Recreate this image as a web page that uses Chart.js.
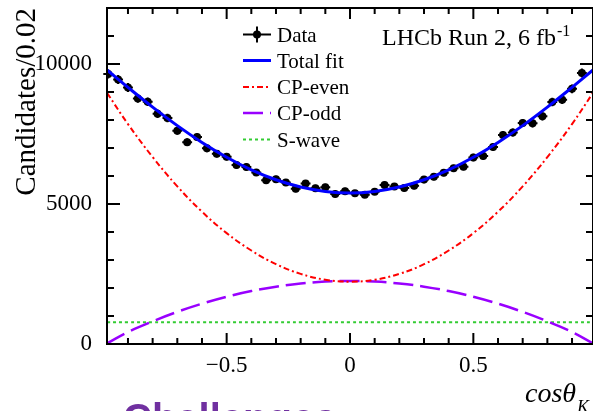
<!DOCTYPE html>
<html>
<head>
<meta charset="utf-8">
<script src="https://cdn.jsdelivr.net/npm/chart.js@4.4.1/dist/chart.umd.min.js"></script>
<style>
  html, body { margin: 0; padding: 0; background: #fff; overflow: hidden; }
  #wrap { position: relative; width: 593px; height: 411px; overflow: hidden; background: #fff; }
  #fitChart { position: absolute; left: 0; top: 0; }
  #challenges {
    position: absolute; left: 123px; top: 398px;
    font: bold 40px "Liberation Sans", Arial, sans-serif; line-height: 40px;
    color: #7030a0; white-space: nowrap;
  }
</style>
</head>
<body>
<div id="wrap">
  <canvas id="fitChart" width="597" height="411" style="width:597px;height:411px"></canvas>
  <div id="challenges">Challenges:</div>
</div>
<script>
// cos(theta_K) bin centres and candidates per bin
const binCentres = [-0.98, -0.94, -0.90, -0.86, -0.82, -0.78, -0.74, -0.70, -0.66, -0.62,
    -0.58, -0.54, -0.50, -0.46, -0.42, -0.38, -0.34, -0.30, -0.26, -0.22,
    -0.18, -0.14, -0.10, -0.06, -0.02, 0.02, 0.06, 0.10, 0.14, 0.18,
    0.22, 0.26, 0.30, 0.34, 0.38, 0.42, 0.46, 0.50, 0.54, 0.58,
    0.62, 0.66, 0.70, 0.74, 0.78, 0.82, 0.86, 0.90, 0.94];
const dataCounts = [9643, 9446, 9161, 8768, 8654, 8225, 8071, 7614, 7207, 7389,
    6989, 6796, 6689, 6393, 6321, 6125, 5846, 5886, 5768, 5546,
    5729, 5561, 5596, 5357, 5454, 5382, 5332, 5439, 5679, 5625,
    5571, 5650, 5871, 5975, 6118, 6275, 6332, 6661, 6714, 7036,
    7464, 7554, 7893, 7882, 8132, 8643, 8725, 9114, 9679];
const dataErrors = [162, 160, 158, 155, 153, 150, 148, 144, 140, 142,
    138, 136, 135, 132, 131, 129, 126, 127, 125, 123,
    125, 123, 123, 121, 122, 121, 120, 122, 124, 124,
    123, 124, 126, 127, 129, 131, 131, 135, 135, 138,
    143, 143, 147, 147, 149, 153, 154, 157, 162];
const binHalfWidth = 0.02;

const fitX = [-0.985, -0.9, -0.8, -0.7, -0.6, -0.5, -0.4, -0.3, -0.2, -0.1, 0,
    0.1, 0.2, 0.3, 0.4, 0.5, 0.6, 0.7, 0.8, 0.9, 0.985];
const totalFit = [9785, 9165, 8460, 7800, 7200, 6670, 6220, 5865, 5605, 5450, 5395,
    5450, 5605, 5865, 6220, 6670, 7200, 7800, 8460, 9165, 9785];
const cpEven = [8970, 7855, 6675, 5630, 4725, 3960, 3340, 2850, 2505, 2295, 2225,
    2295, 2505, 2850, 3340, 3960, 4725, 5630, 6675, 7855, 8970];
const cpOdd = [20, 428, 810, 1148, 1440, 1688, 1890, 2048, 2160, 2228, 2250,
    2228, 2160, 2048, 1890, 1688, 1440, 1148, 810, 428, 20];
const sWave = [780, 780, 780, 780, 780, 780, 780, 780, 780, 780, 780,
    780, 780, 780, 780, 780, 780, 780, 780, 780, 780];

// axis ticks
const xTickValues = [-0.5, 0, 0.5];
const xMinorTicks = [-0.9, -0.8, -0.7, -0.6, -0.4, -0.3, -0.2, -0.1, 0.1, 0.2, 0.3, 0.4, 0.6, 0.7, 0.8, 0.9];
const yTickValues = [0, 5000, 10000];
const yMinorTicks = [1000, 2000, 3000, 4000, 6000, 7000, 8000, 9000, 11000];

const serif = '"Liberation Serif", "Times New Roman", serif';

function points(xs, ys) {
    return xs.map((x, i) => ({ x: x, y: ys[i] }));
}

function curve(label, ys, color, width, dash) {
    return {
        label: label,
        data: points(fitX, ys),
        showLine: true,
        borderColor: color,
        borderWidth: width,
        borderDash: dash,
        pointRadius: 0,
        tension: 0.4,
        fill: false
    };
}

const datasets = [
    curve('Total fit', totalFit, '#0000ff', 3, []),
    {
        label: 'Data',
        data: points(binCentres, dataCounts),
        showLine: false,
        pointRadius: 4,
        pointBackgroundColor: '#000',
        pointBorderColor: '#000',
        pointBorderWidth: 0
    },
    curve('CP-even', cpEven, '#ff0000', 2, [6, 3, 2, 3]),
    curve('CP-odd', cpOdd, '#9900ff', 2.5, [20, 7]),
    curve('S-wave', sWave, '#33cc33', 2, [3, 3])
];

// error bars on the data points
const errorBars = {
    id: 'errorBars',
    afterDatasetDraw(chart, args) {
        if (args.index !== 1) return;
        const xs = chart.scales.x, ys = chart.scales.y, ctx = chart.ctx;
        ctx.save();
        ctx.strokeStyle = '#000';
        ctx.lineWidth = 2;
        binCentres.forEach((x, i) => {
            const px = xs.getPixelForValue(x);
            const py = ys.getPixelForValue(dataCounts[i]);
            ctx.beginPath();
            ctx.moveTo(xs.getPixelForValue(x - binHalfWidth), py);
            ctx.lineTo(xs.getPixelForValue(x + binHalfWidth), py);
            ctx.moveTo(px, ys.getPixelForValue(dataCounts[i] - dataErrors[i]));
            ctx.lineTo(px, ys.getPixelForValue(dataCounts[i] + dataErrors[i]));
            ctx.stroke();
        });
        ctx.restore();
    }
};

// ROOT style frame with inward ticks, legend and labels
const frame = {
    id: 'frame',
    afterDatasetsDraw(chart) {
        const ctx = chart.ctx;
        const { left, right, top, bottom } = chart.chartArea;
        const xs = chart.scales.x, ys = chart.scales.y;
        ctx.save();
        ctx.strokeStyle = '#000';
        ctx.lineWidth = 2;
        ctx.strokeRect(left, top, right - left, bottom - top);

        ctx.beginPath();
        const xTick = (v, len) => {
            const p = xs.getPixelForValue(v);
            ctx.moveTo(p, bottom); ctx.lineTo(p, bottom - len);
            ctx.moveTo(p, top); ctx.lineTo(p, top + len);
        };
        const yTick = (v, len) => {
            const p = ys.getPixelForValue(v);
            ctx.moveTo(left, p); ctx.lineTo(left + len, p);
            ctx.moveTo(right, p); ctx.lineTo(right - len, p);
        };
        xTickValues.forEach(v => xTick(v, 11));
        xMinorTicks.forEach(v => xTick(v, 6));
        yTickValues.forEach(v => yTick(v, 13));
        yMinorTicks.forEach(v => yTick(v, 7));
        ctx.stroke();

        // legend
        const lx0 = 243, lx1 = 271, tx = 277;
        const rows = [41.5, 67.5, 94, 120, 146.5];
        const order = [1, 0, 2, 3, 4];
        ctx.font = '21px ' + serif;
        ctx.fillStyle = '#000';
        ctx.textBaseline = 'alphabetic';
        ctx.textAlign = 'left';
        order.forEach((di, r) => {
            const ds = chart.data.datasets[di];
            const y = rows[r] - 7;
            ctx.save();
            if (di === 1) {
                ctx.strokeStyle = '#000';
                ctx.lineWidth = 2;
                ctx.beginPath();
                ctx.moveTo(lx0, y); ctx.lineTo(lx1, y);
                ctx.moveTo((lx0 + lx1) / 2, y - 8); ctx.lineTo((lx0 + lx1) / 2, y + 8);
                ctx.stroke();
                ctx.beginPath();
                ctx.arc((lx0 + lx1) / 2, y, 4, 0, Math.PI * 2);
                ctx.fill();
            } else {
                ctx.strokeStyle = ds.borderColor;
                ctx.lineWidth = ds.borderWidth;
                ctx.setLineDash(ds.borderDash);
                ctx.beginPath();
                ctx.moveTo(lx0, y); ctx.lineTo(lx1, y);
                ctx.stroke();
            }
            ctx.restore();
            ctx.fillText(ds.label, tx, rows[r]);
        });

        // experiment label
        ctx.font = '24px ' + serif;
        const main = 'LHCb Run 2, 6 fb';
        ctx.fillText(main, 382, 45);
        const w = ctx.measureText(main).width;
        ctx.font = '16px ' + serif;
        ctx.fillText('-1', 382 + w + 1, 36);

        // x axis title
        ctx.font = 'italic 28px ' + serif;
        ctx.fillText('cos\u03b8', 525, 402);
        const cw = ctx.measureText('cos\u03b8').width;
        ctx.font = 'italic 18px ' + serif;
        ctx.fillText('K', 525 + cw + 1, 413);
        ctx.restore();
    }
};

// keep the plot frame where the reference has it
function noEdgePadding(s) {
    s.paddingTop = 0;
    s.paddingBottom = 0;
    s.paddingLeft = 0;
    s.paddingRight = 0;
}

const ctx = document.getElementById('fitChart').getContext('2d');
new Chart(ctx, {
    type: 'scatter',
    data: { datasets: datasets },
    options: {
        responsive: false,
        animation: false,
        layout: { padding: { left: 0, top: 8, right: 2, bottom: 0 } },
        plugins: { legend: { display: false }, tooltip: { enabled: false } },
        scales: {
            x: {
                type: 'linear',
                min: -0.985,
                max: 0.985,
                grid: { display: false },
                border: { display: false },
                afterBuildTicks: s => { s.ticks = xTickValues.map(v => ({ value: v })); },
                afterFit: s => { s.height = 67; noEdgePadding(s); },
                ticks: {
                    padding: 0,
                    maxRotation: 0,
                    color: '#000',
                    font: { family: serif, size: 23 },
                    callback: v => (v < 0 ? '\u2212' + Math.abs(v) : String(v))
                }
            },
            y: {
                min: 0,
                max: 12000,
                grid: { display: false },
                border: { display: false },
                afterBuildTicks: s => { s.ticks = yTickValues.map(v => ({ value: v })); },
                afterFit: s => { s.width = 107; noEdgePadding(s); },
                ticks: {
                    padding: 7,
                    color: '#000',
                    font: { family: serif, size: 23 },
                    callback: v => String(v)
                },
                title: {
                    display: true,
                    text: 'Candidates/0.02',
                    align: 'end',
                    color: '#000',
                    font: { family: serif, size: 29 },
                    padding: { top: 10, bottom: 0 }
                }
            }
        }
    },
    plugins: [errorBars, frame]
});
</script>
</body>
</html>
